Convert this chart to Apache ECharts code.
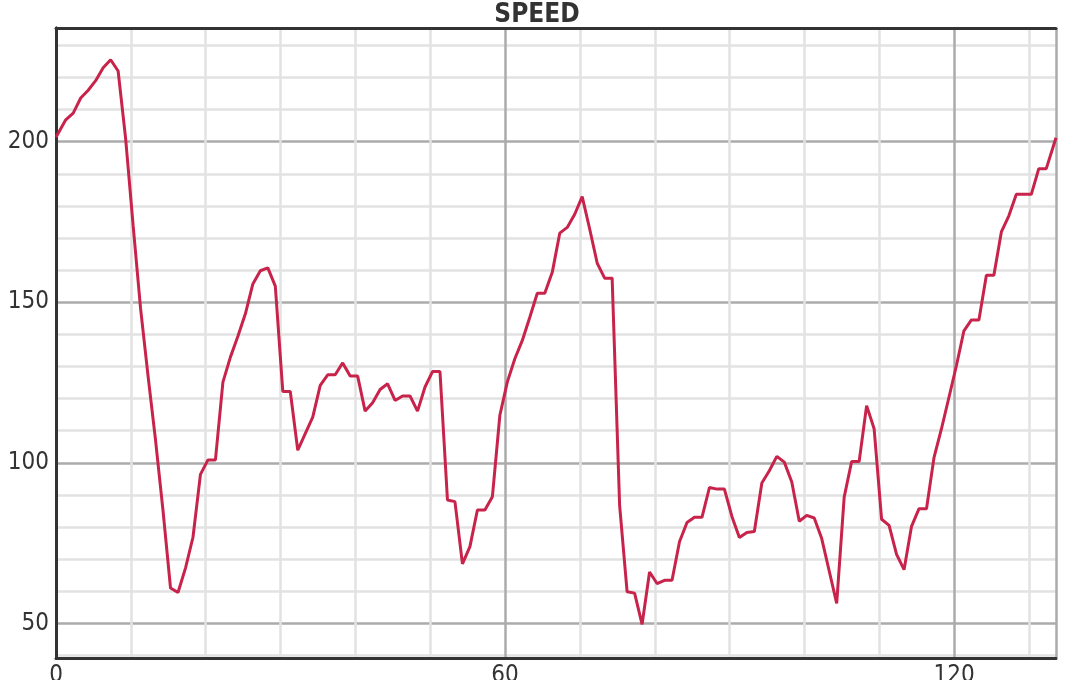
<!DOCTYPE html>
<html>
<head>
<meta charset="utf-8">
<script src="https://cdn.jsdelivr.net/npm/echarts@6/dist/echarts.min.js"></script>
<style>
html,body{margin:0;padding:0;background:#fff;}
#chart{width:1074px;height:680px;}
</style>
</head>
<body>
<div id="chart"></div>
<script>
const titleText = 'SPEED';
const xTickLabels = [0, 60, 120];
const yTickLabels = [50, 100, 150, 200];
const xValues = [
  0, 1.3, 2.3, 3.3, 4.3, 5.3, 6.3, 7.3, 8.3, 9.3,
  10.3, 11.3, 12.3, 13.3, 14.3, 15.3, 16.3, 17.3, 18.3, 19.3,
  20.3, 21.3, 22.3, 23.3, 24.3, 25.3, 26.3, 27.3, 28.3, 29.3,
  30.3, 31.3, 32.3, 33.3, 34.3, 35.3, 36.3, 37.3, 38.3, 39.3,
  40.3, 41.3, 42.3, 43.3, 44.3, 45.3, 46.3, 47.3, 48.3, 49.3,
  50.3, 51.3, 52.3, 53.3, 54.3, 55.3, 56.3, 57.3, 58.3, 59.3,
  60.3, 61.3, 62.3, 63.3, 64.3, 65.3, 66.3, 67.3, 68.3, 69.3,
  70.3, 71.3, 72.3, 73.3, 74.3, 75.3, 76.3, 77.3, 78.3, 79.3,
  80.3, 81.3, 82.3, 83.3, 84.3, 85.3, 86.3, 87.3, 88.3, 89.3,
  90.3, 91.3, 92.3, 93.3, 94.3, 95.3, 96.3, 97.3, 98.3, 99.3,
  100.3, 101.3, 102.3, 103.3, 104.3, 105.3, 106.3, 107.3, 108.3, 109.3,
  110.3, 111.3, 112.3, 113.3, 114.3, 115.3, 116.3, 117.3, 118.3, 119.3,
  120.3, 121.3, 122.3, 123.3, 124.3, 125.3, 126.3, 127.3, 128.3, 129.3,
  130.3, 131.3, 132.3, 133.6
];
const speedValues = [
  201.4, 206.8, 208.9, 213.6, 216, 219, 223, 225.5, 222, 201,
  174, 148, 127, 107, 85, 61, 59.6, 67.2, 76.8, 96.4,
  100.9, 100.9, 125.1, 132.9, 139.4, 146.4, 155.7, 159.8, 160.7, 155,
  122.2, 122.2, 103.9, 109.1, 114.2, 124.1, 127.4, 127.4, 131.1, 127,
  127, 116.1, 118.7, 122.8, 124.6, 119.4, 120.8, 120.8, 116.1, 123.6,
  128.4, 128.4, 88.4, 87.9, 68.5, 73.9, 85.3, 85.3, 89.4, 114.8,
  125.2, 132.4, 138.1, 145.3, 152.8, 152.8, 159.3, 171.5, 173.3, 177.4,
  182.9, 172.8, 162.2, 157.5, 157.5, 86.7, 59.8, 59.4, 49.7, 66,
  62.4, 63.4, 63.4, 75.4, 81.4, 83, 83, 92.3, 91.8, 91.8,
  83.3, 76.7, 78.3, 78.6, 93.7, 97.5, 102, 100.2, 94, 81.8,
  83.6, 82.8, 76.4, 66.3, 56.2, 89.3, 100.4, 100.4, 117.8, 110.6,
  82.4, 80.5, 71.5, 66.7, 80.2, 85.7, 85.7, 101.6, 110.6, 120.4,
  130.3, 141.1, 144.5, 144.5, 158.4, 158.4, 171.9, 176.9, 183.6, 183.6,
  183.6, 191.6, 191.6, 201.2
];
const xMin = 0, xMax = 133.6;
const yMin = 39.2, yMax = 235.4;

const seriesData = xValues.map((x, i) => [x, speedValues[i]]);
const labelFont = "'Liberation Sans Narrow', 'DejaVu Sans Condensed', 'DejaVu Sans', sans-serif";
const frame = { show: true, lineStyle: { color: '#333', width: 3 } };

const chart = echarts.init(document.getElementById('chart'), null, { renderer: 'canvas' });
chart.setOption({
  animation: false,
  backgroundColor: '#fff',
  title: {
    text: titleText,
    left: 'center',
    top: -3,
    textStyle: { fontFamily: labelFont, fontWeight: 'bold', fontSize: 26, color: '#333' }
  },
  grid: { left: 56, right: 18, top: 28, bottom: 22, containLabel: false, outerBoundsMode: 'none' },
  xAxis: [{
    type: 'value', min: xMin, max: xMax, interval: 60, position: 'bottom',
    axisLine: frame, axisTick: { show: false },
    axisLabel: {
      fontFamily: labelFont, fontSize: 24, color: '#333', margin: 6,
      showMaxLabel: false, hideOverlap: false,
      formatter: v => xTickLabels.indexOf(v) >= 0 ? String(v) : ''
    },
    splitLine: { show: true, lineStyle: { color: '#ababab', width: 2.5 } },
    minorTick: { show: false, splitNumber: 6 },
    minorSplitLine: { show: true, lineStyle: { color: '#e2e2e2', width: 2.5 } }
  }, {
    type: 'value', min: xMin, max: xMax, position: 'top',
    axisLine: frame, axisTick: { show: false }, axisLabel: { show: false },
    splitLine: { show: false }
  }],
  yAxis: [{
    type: 'value', min: yMin, max: yMax, splitNumber: 4, position: 'left',
    axisLine: frame, axisTick: { show: false },
    axisLabel: {
      fontFamily: labelFont, fontSize: 24, color: '#333', margin: 7,
      formatter: v => yTickLabels.indexOf(v) >= 0 ? String(v) : ''
    },
    splitLine: { show: true, lineStyle: { color: '#ababab', width: 2.5 } },
    minorTick: { show: false, splitNumber: 5 },
    minorSplitLine: { show: true, lineStyle: { color: '#e2e2e2', width: 2.5 } }
  }, {
    type: 'value', min: yMin, max: yMax, position: 'right',
    axisLine: frame, axisTick: { show: false }, axisLabel: { show: false },
    splitLine: { show: false }
  }],
  series: [{
    type: 'line',
    xAxisIndex: 0, yAxisIndex: 0,
    data: seriesData,
    showSymbol: false,
    symbol: 'none',
    lineStyle: { color: '#c8234a', width: 3 },
    z: 5
  }]
});
</script>
</body>
</html>
